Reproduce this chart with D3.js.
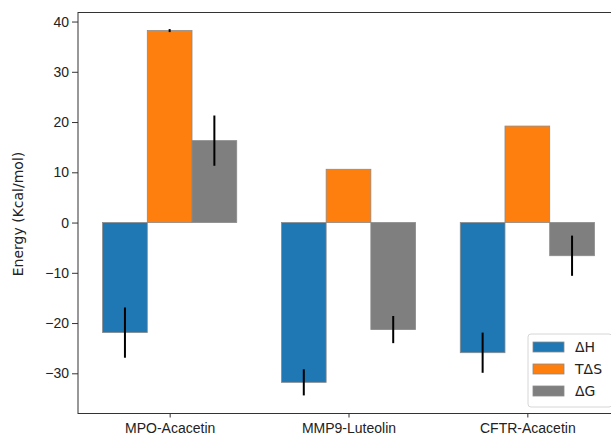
<!DOCTYPE html>
<html>
<head>
<meta charset="utf-8">
<script src="https://cdn.jsdelivr.net/npm/d3@7"></script>
<style>
  html, body { margin: 0; padding: 0; background: #fff; }
  svg { display: block; font-family: "DejaVu Sans", sans-serif; }
</style>
</head>
<body>
<svg id="chart" width="611" height="436"></svg>
<script>
// Binding thermodynamics per complex
const complexes = ["MPO-Acacetin", "MMP9-Luteolin", "CFTR-Acacetin"];
const seriesNames = ["ΔH", "TΔS", "ΔG"];
const dH = [-21.9, -31.8, -25.9];
const dHErr = [5.0, 2.6, 4.0];
const TdS = [38.2, 10.6, 19.2];
const TdSErr = [0.3, 0, 0];
const dG = [16.3, -21.3, -6.6];
const dGErr = [5.0, 2.7, 4.0];
const yTicks = [-30, -20, -10, 0, 10, 20, 30, 40];
const colors = ["#1f77b4", "#ff7f0e", "#7f7f7f"];

const series = [
  { name: seriesNames[0], values: dH, errs: dHErr },
  { name: seriesNames[1], values: TdS, errs: TdSErr },
  { name: seriesNames[2], values: dG, errs: dGErr }
];

const svg = d3.select("#chart");
const m = { left: 78, right: 619, top: 12.5, bottom: 413.5 };
const barW = 0.25;
const fs = 14;

const x = d3.scaleLinear().domain([-0.5125, 2.5125]).range([m.left, m.right]);
const y = d3.scaleLinear().domain([-38, 41.8]).range([m.bottom, m.top]);

const plot = svg.append("g");

// bars
series.forEach((s, si) => {
  const off = (si - 1) * barW;
  plot.selectAll(null)
    .data(s.values.map((v, i) => ({ v, i, e: s.errs[i] })))
    .enter()
    .append("rect")
    .attr("x", d => x(d.i + off - barW / 2))
    .attr("width", d => x(d.i + off + barW / 2) - x(d.i + off - barW / 2))
    .attr("y", d => y(Math.max(0, d.v)))
    .attr("height", d => Math.abs(y(d.v) - y(0)))
    .attr("fill", colors[si])
    .attr("stroke", "#8a8a8a")
    .attr("stroke-width", 0.8);
});

// error bars
series.forEach((s, si) => {
  const off = (si - 1) * barW;
  plot.selectAll(null)
    .data(s.values.map((v, i) => ({ v, i, e: s.errs[i] })).filter(d => d.e > 0))
    .enter()
    .append("line")
    .attr("x1", d => x(d.i + off))
    .attr("x2", d => x(d.i + off))
    .attr("y1", d => y(d.v - d.e))
    .attr("y2", d => y(d.v + d.e))
    .attr("stroke", "#000")
    .attr("stroke-width", 2);
});

// axes
const yAxis = d3.axisLeft(y).tickValues(yTicks).tickSize(6).tickPadding(3)
  .tickFormat(d => d < 0 ? "\u2212" + Math.abs(d) : d);
const gy = svg.append("g").attr("transform", `translate(${m.left},0)`).call(yAxis);
gy.select(".domain").remove();
gy.selectAll("text").attr("font-size", fs).attr("fill", "#222");
gy.selectAll("line").attr("stroke", "#333");

const xAxis = d3.axisBottom(x).tickValues([0, 1, 2]).tickSize(4).tickPadding(6)
  .tickFormat(i => complexes[i]);
const gx = svg.append("g").attr("transform", `translate(0,${m.bottom})`).call(xAxis);
gx.select(".domain").remove();
gx.selectAll("text").attr("font-size", fs).attr("fill", "#222");
gx.selectAll("line").attr("stroke", "#333");

// frame
svg.append("rect")
  .attr("x", m.left).attr("y", m.top)
  .attr("width", m.right - m.left).attr("height", m.bottom - m.top)
  .attr("fill", "none").attr("stroke", "#333").attr("stroke-width", 1);

// y label
svg.append("text")
  .attr("transform", `translate(23,214) rotate(-90)`)
  .attr("text-anchor", "middle")
  .attr("font-size", fs)
  .attr("fill", "#222")
  .text("Energy (Kcal/mol)");

// legend
const lg = svg.append("g").attr("transform", "translate(528,334)");
lg.append("rect")
  .attr("width", 84).attr("height", 73).attr("rx", 3)
  .attr("fill", "#fff").attr("fill-opacity", 0.85)
  .attr("stroke", "#d6d6d6");
series.forEach((s, si) => {
  const row = lg.append("g").attr("transform", `translate(5,${13 + si * 22})`);
  row.append("rect").attr("x", 0).attr("y", -5).attr("width", 31).attr("height", 10)
    .attr("fill", colors[si]).attr("stroke", "#8a8a8a").attr("stroke-width", 0.8);
  row.append("text").attr("x", 42).attr("y", 5).attr("font-size", fs)
    .attr("fill", "#222").text(s.name);
});
</script>
</body>
</html>
